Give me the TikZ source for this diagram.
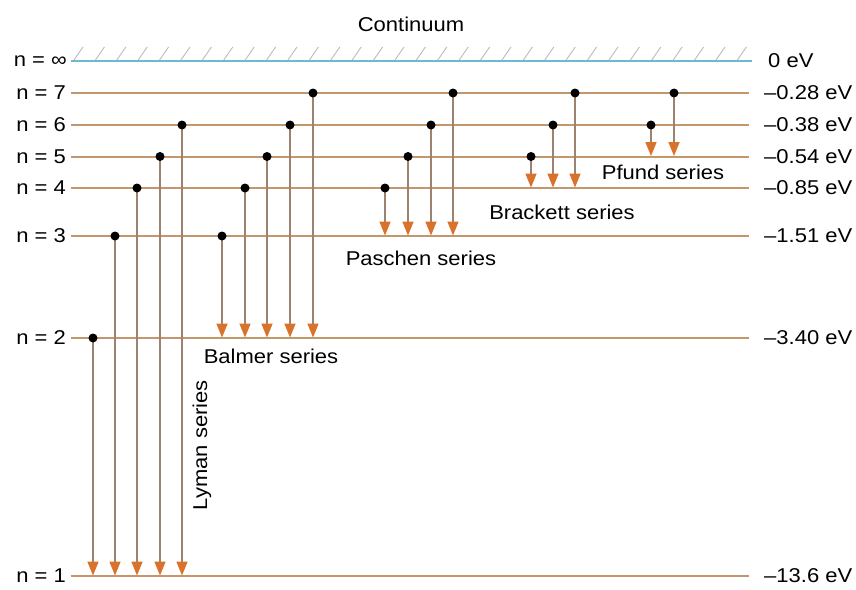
\documentclass[tikz,border=0pt]{standalone}
\usepackage{fontspec}
\setmainfont{Liberation Sans}
\usetikzlibrary{arrows.meta,calc}
\definecolor{lvl}{HTML}{C4966C}
\definecolor{shaft}{HTML}{9E8270}
\definecolor{headc}{HTML}{D9732B}
\definecolor{cont}{HTML}{6DB8D2}
\definecolor{hatch}{HTML}{B4BEC2}
\newcommand{\st}[1]{\scalebox{1.1}[1]{#1}}
\tikzset{
  txt/.style={font=\fontsize{20}{24}\selectfont, inner sep=0pt},
  level/.style={draw=lvl, line width=2pt},
  trans/.style={draw=shaft, line width=1.7pt, -{Triangle[width=11pt,length=14pt,color=headc]}, shorten >=0.5pt},
  dot/.style={circle, fill=black, inner sep=0pt, minimum size=9pt},
}
\begin{document}
\begin{tikzpicture}[x=1pt,y=-1pt]
\useasboundingbox (0,0) rectangle (856,589);
\fill[white] (0,0) rectangle (856,589);
% level coordinates
\foreach \n/\y in {inf/61,7/93,6/125,5/156.5,4/188,3/236,2/338,1/576}{
  \coordinate (L\n) at (71,\y);
  \coordinate (R\n) at (749,\y);
}
% continuum hatching
\foreach \i in {0,...,31}{
  \draw[hatch, line width=0.9pt] ($(Linf)+(3+21.4*\i,-1)$) -- ++(9,-13);
}
\draw[cont, line width=2pt] (Linf) -- (752,61);
\node[txt] (cont) at (411,24) {\st{Continuum}};
% levels
\foreach \n in {7,6,5,4,3,2,1}{
  \draw[level] (L\n) -- (R\n);
}
% left labels
\node[txt, anchor=east] (ninf) at (67,61) {\st{n = ∞}};
\foreach \n in {7,6,5,4,3,2,1}{
  \node[txt, anchor=east] (n\n) at ($(L\n)+(-5,0)$) {\st{n = \n}};
}
% right labels
\node[txt, anchor=west] (einf) at (768,61) {\st{0 eV}};
\foreach \n/\e in {7/0.28,6/0.38,5/0.54,4/0.85,3/1.51,2/3.40,1/13.6}{
  \node[txt, anchor=west] (e\n) at ($(R\n)+(15,0)$) {\st{--\e\ eV}};
}
% transitions: series name / lower level / list of (upper level, x)
\foreach \s/\lo/\list in {
  ly/1/{2/93,3/115,4/137,5/160,6/182},
  ba/2/{3/222,4/245,5/267,6/290,7/313},
  pa/3/{4/385,5/408,6/431,7/453},
  br/4/{5/531,6/553,7/575},
  pf/5/{6/651,7/674}}{
  \foreach \up/\x in \list {
    \path (L\up -| \x,0) coordinate (s\s\up);
    \path (L\lo -| \x,0) coordinate (t\s\up);
    \draw[trans] (s\s\up) -- (t\s\up);
    \node[dot] (d\s\up) at (s\s\up) {};
  }
}
% series labels
\node[txt, rotate=90] (lyman) at (202,445) {\st{Lyman series}};
\node[txt] (balmer) at (271,356) {\st{Balmer series}};
\node[txt] (paschen) at (421,258) {\st{Paschen series}};
\node[txt] (brackett) at (562,212) {\st{Brackett series}};
\node[txt] (pfund) at (663,172) {\st{Pfund series}};
\end{tikzpicture}
\end{document}
